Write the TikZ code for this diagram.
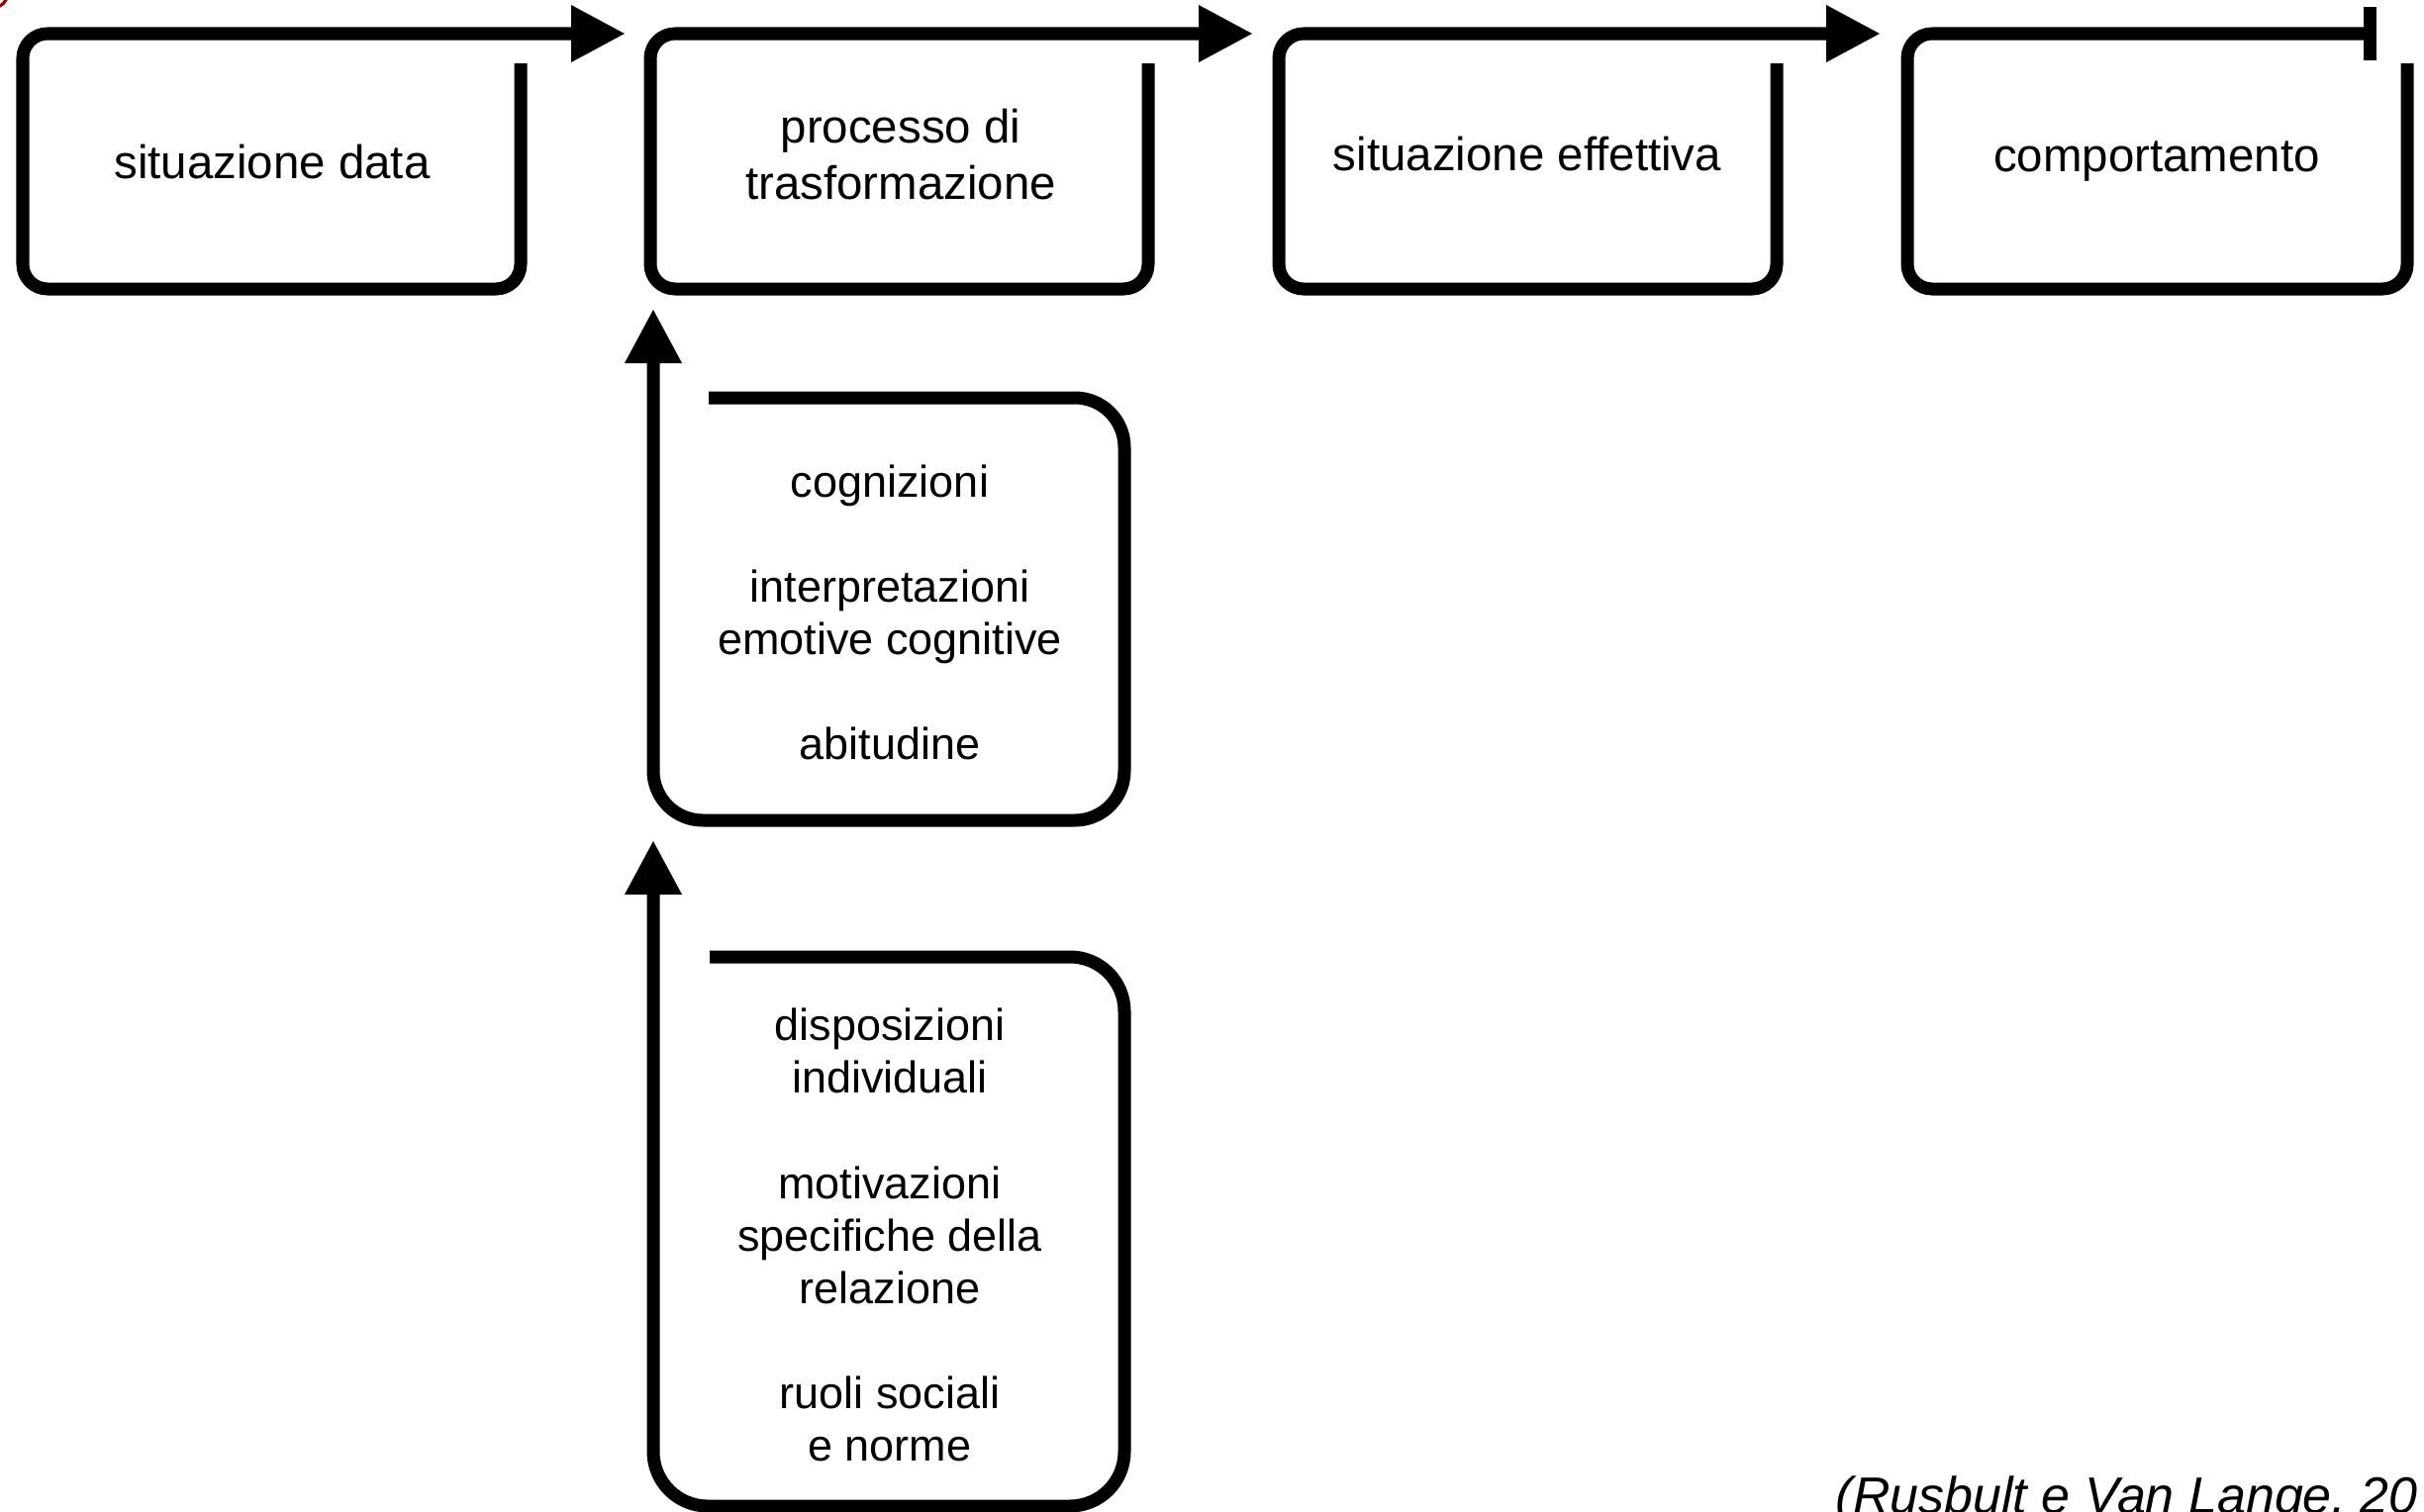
\documentclass[tikz,border=0pt]{standalone}
\usepackage{fontspec}
\setmainfont{Liberation Sans}
\usetikzlibrary{arrows.meta}

\tikzset{
  loopline/.style={color = black, line width = 3.7pt},
  headarrow/.style={-{Triangle[length=0.55cm, width=0.54cm]}},
  toptext/.style={align=center, font=\fontsize{13.5}{16.2}\selectfont},
  lowtext/.style={align=center, font=\fontsize{12.8}{15.1}\selectfont}
}

\begin{document}
\begin{tikzpicture}[scale=1, every node/.style={scale=1}]
        \useasboundingbox (0,0) rectangle (24.49,-15.27);
        \fill[white] (0,0) rectangle (24.49,-15.27);
        % cut-off mark in the corner
        \draw[color = red!55!black, line width = 0.9pt] (-0.05,0.05) circle (0.12);
        % top row
        \draw[loopline, headarrow, rounded corners = 0.25cm] (5.26,-0.64) -- (5.26,-2.92) -- (0.23,-2.92) -- (0.23,-0.34) -- (6.32,-0.34);
        \draw[loopline, headarrow, rounded corners = 0.25cm] (11.60,-0.64) -- (11.60,-2.92) -- (6.57,-2.92) -- (6.57,-0.34) -- (12.66,-0.34);
        \draw[loopline, headarrow, rounded corners = 0.25cm] (17.95,-0.64) -- (17.95,-2.92) -- (12.92,-2.92) -- (12.92,-0.34) -- (19.00,-0.34);
        \draw[loopline, -{Bar[width=0.54cm]}, rounded corners = 0.25cm] (24.32,-0.64) -- (24.32,-2.92) -- (19.27,-2.92) -- (19.27,-0.34) -- (24.01,-0.34);
        \node[toptext] (sitdata) at (2.75,-1.64) {situazione data};
        \node[toptext] (processo) at (9.10,-1.56) {processo di\\trasformazione};
        \node[toptext] (siteff) at (15.43,-1.56) {situazione effettiva};
        \node[toptext] (comport) at (21.79,-1.63) {comportamento};
        % lower boxes
        \draw[loopline, headarrow, rounded corners = 0.5cm] (7.16,-4.02) -- (11.36,-4.02) -- (11.36,-8.29) -- (6.60,-8.29) -- (6.60,-3.12);
        \draw[loopline, headarrow, rounded corners = 0.55cm] (7.17,-9.67) -- (11.36,-9.67) -- (11.36,-15.22) -- (6.60,-15.22) -- (6.60,-8.49);
        \node[lowtext] (cogniz) at (8.99,-6.19) {cognizioni\\[15.1pt]interpretazioni\\emotive cognitive\\[15.1pt]abitudine};
        \node[lowtext] (dispos) at (8.99,-12.48) {disposizioni\\individuali\\[15.1pt]motivazioni\\specifiche della\\relazione\\[15.1pt]ruoli sociali\\e norme};
        \node[anchor=base west, inner sep=0pt, font=\fontsize{14.8}{17}\selectfont\itshape] (fonte) at (18.54,-15.29) {(Rusbult e Van Lange, 20};
\end{tikzpicture}
\end{document}
